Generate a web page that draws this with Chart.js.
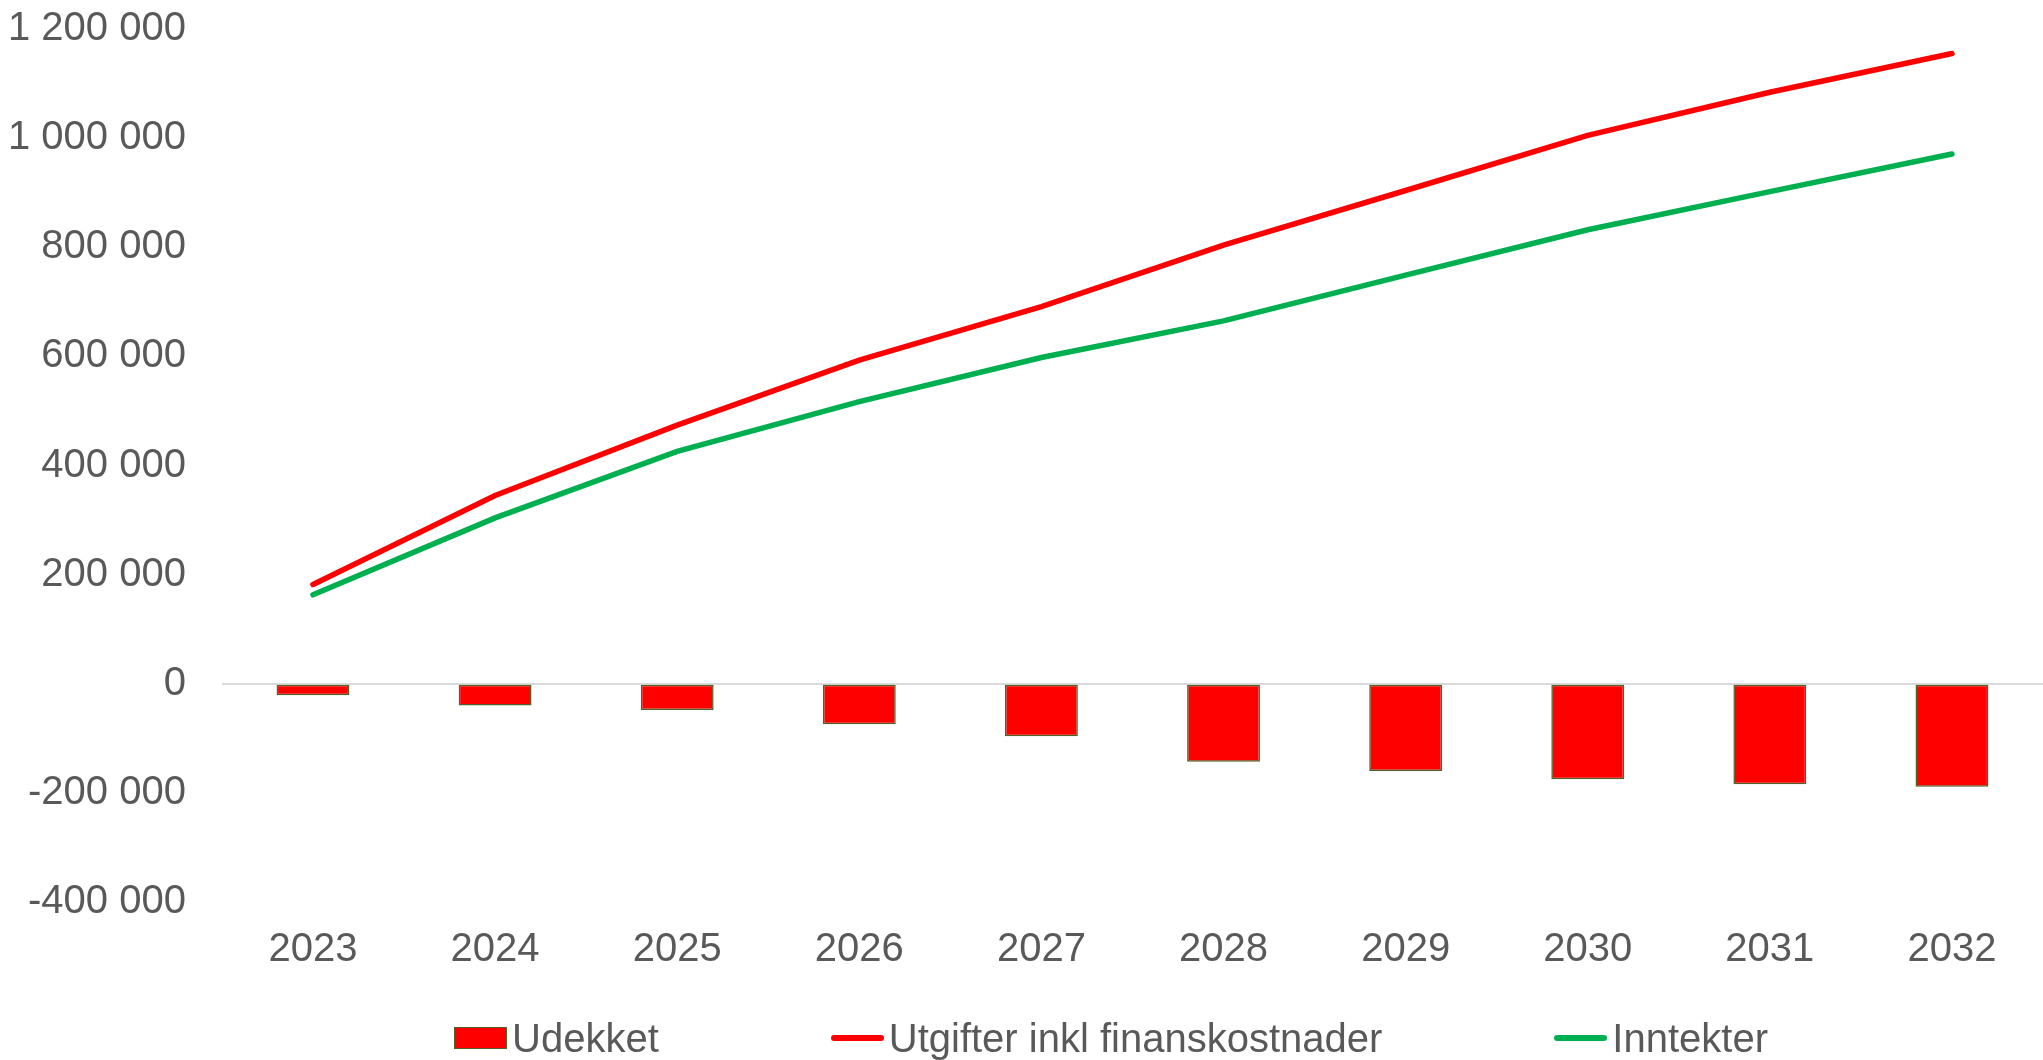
<!DOCTYPE html>
<html>
<head>
<meta charset="utf-8">
<script src="https://cdn.jsdelivr.net/npm/chart.js@4.4.1/dist/chart.umd.min.js"></script>
<style>
    html, body { margin: 0; padding: 0; background: #fff; overflow: hidden; }
    #wrap { position: relative; width: 2043px; height: 1060px; overflow: hidden; }
    #chart { position: absolute; left: 0; top: -31px; }
    #legend {
        position: absolute; left: 454px; top: 1014px;
        display: flex; align-items: center; gap: 172px;
        font-family: "Liberation Sans", Arial, sans-serif;
        font-size: 40px; color: #595959; line-height: 48px;
    }
    .item { display: flex; align-items: center; white-space: nowrap; }
    .swatch { width: 53px; margin-right: 5px; box-sizing: border-box; }
    .box { height: 22px; background: #ff0000; border: 1.5px solid #4f6228; }
    .line { height: 6px; border-radius: 3px; }
</style>
</head>
<body>
<div id="wrap">
    <canvas id="chart" width="2043" height="1060"></canvas>
    <div id="legend"></div>
</div>
<script>
// =======================
// DATA
// =======================
const years = ["2023", "2024", "2025", "2026", "2027", "2028", "2029", "2030", "2031", "2032"];
const udekket = [-21000, -40000, -48000, -74000, -96000, -143000, -160000, -175000, -184000, -189000];
const utgifter = [182000, 345000, 474000, 593000, 691000, 804000, 904000, 1005000, 1084000, 1155000];
const inntekter = [163000, 304000, 426000, 517000, 598000, 665000, 749000, 832000, 902000, 971000];

const seriesNames = ["Udekket", "Utgifter inkl finanskostnader", "Inntekter"];

const RED = "#ff0000";
const GREEN = "#00b050";
const TEXT = "#595959";

function fmt(v) {
    return v.toString().replace(/\B(?=(\d{3})+(?!\d))/g, " ");
}

// =======================
// CHART
// =======================
new Chart(document.getElementById("chart"), {
    type: "bar",
    data: {
        labels: years,
        datasets: [
            {
                type: "line",
                label: seriesNames[1],
                data: utgifter,
                borderColor: RED,
                backgroundColor: RED,
                borderWidth: 5.5,
                borderCapStyle: "round",
                pointRadius: 0,
                tension: 0
            },
            {
                type: "line",
                label: seriesNames[2],
                data: inntekter,
                borderColor: GREEN,
                backgroundColor: GREEN,
                borderWidth: 5.5,
                borderCapStyle: "round",
                pointRadius: 0,
                tension: 0
            },
            {
                type: "bar",
                label: seriesNames[0],
                data: udekket,
                backgroundColor: RED,
                borderColor: "#4f6228",
                borderWidth: 1.5,
                borderSkipped: false,
                barPercentage: 0.4,
                categoryPercentage: 1
            }
        ]
    },
    options: {
        responsive: false,
        animation: false,
        layout: { padding: { left: -28, right: 0, top: 0, bottom: 39 } },
        plugins: {
            legend: { display: false },
            tooltip: { enabled: false }
        },
        scales: {
            x: {
                grid: { display: false },
                border: { display: false },
                ticks: {
                    color: TEXT,
                    padding: 16,
                    font: { family: "Liberation Sans", size: 40 }
                }
            },
            y: {
                min: -400000,
                max: 1200000,
                border: { display: false },
                grid: {
                    drawTicks: false,
                    color: ctx => ctx.tick && ctx.tick.value === 0 ? "#d9d9d9" : "rgba(0,0,0,0)",
                    lineWidth: 2
                },
                ticks: {
                    stepSize: 200000,
                    color: TEXT,
                    padding: 36,
                    font: { family: "Liberation Sans", size: 40 },
                    callback: v => fmt(v)
                }
            }
        }
    }
});

// =======================
// LEGEND
// =======================
const legend = document.getElementById("legend");
const legendStyles = [
    { cls: "box", color: RED },
    { cls: "line", color: RED },
    { cls: "line", color: GREEN }
];
seriesNames.forEach((name, i) => {
    const item = document.createElement("div");
    item.className = "item";
    const sw = document.createElement("div");
    sw.className = "swatch " + legendStyles[i].cls;
    if (legendStyles[i].cls === "line") sw.style.background = legendStyles[i].color;
    const txt = document.createElement("span");
    txt.textContent = name;
    item.appendChild(sw);
    item.appendChild(txt);
    legend.appendChild(item);
});
</script>
</body>
</html>
